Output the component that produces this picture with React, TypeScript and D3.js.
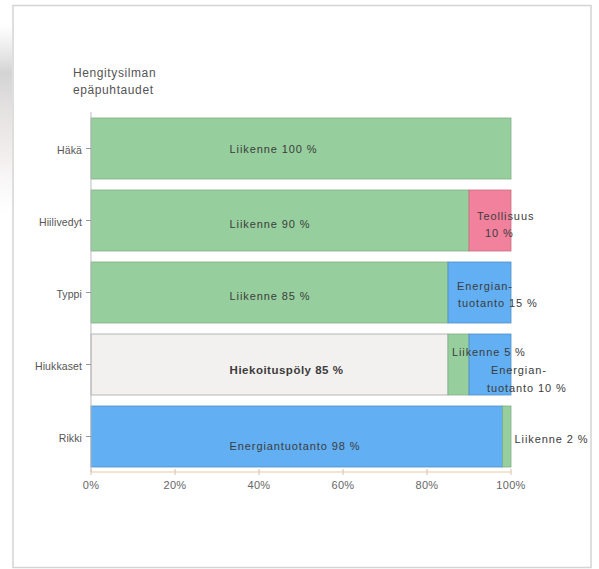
import React from "react";
import * as d3 from "d3";

// Hengitysilman epäpuhtauksien lähteet (%)
const categories = ["Häkä", "Hiilivedyt", "Typpi", "Hiukkaset", "Rikki"];
const rowSources = [
  ["Liikenne"],
  ["Liikenne", "Teollisuus"],
  ["Liikenne", "Energiantuotanto"],
  ["Hiekoituspöly", "Liikenne", "Energiantuotanto"],
  ["Energiantuotanto", "Liikenne"],
];
const rowValues = [[100], [90, 10], [85, 15], [85, 5, 10], [98, 2]];
const xTicks = [0, 20, 40, 60, 80, 100];
const title = ["Hengitysilman", "epäpuhtaudet"];

const W = 599;
const H = 569;

const colors: Record<string, string> = {
  Liikenne: "#96cf9d",
  Teollisuus: "#f2819d",
  Energiantuotanto: "#62aff3",
  Hiekoituspöly: "#f3f1f0",
};
const strokes: Record<string, string> = {
  Liikenne: "#7fae86",
  Teollisuus: "#c9717f",
  Energiantuotanto: "#4f8fc6",
  Hiekoituspöly: "#a9a6a6",
};

// Label placement for each segment: wide segments get a single line at a
// common left edge, narrow ones get wrapped lines nudged next to the segment.
type LabelSpec = { lines: string[]; dx: number[]; dy: number[]; weight?: number };
function labelFor(row: number, seg: number, source: string, value: number): LabelSpec | null {
  const text = `${source} ${value} %`;
  const key = `${row}-${seg}`;
  const specs: Record<string, LabelSpec> = {
    "0-0": { lines: [text], dx: [0], dy: [0] },
    "1-0": { lines: [text], dx: [0], dy: [3] },
    "1-1": { lines: [source, `${value} %`], dx: [8, 16], dy: [-5, 12.5] },
    "2-0": { lines: [text], dx: [0], dy: [3] },
    "2-1": { lines: ["Energian-", `tuotanto ${value} %`], dx: [9, 10], dy: [-6.5, 10.5] },
    "3-0": { lines: [text], dx: [0], dy: [5], weight: 700 },
    "3-1": { lines: [text], dx: [4], dy: [-12.5] },
    "3-2": { lines: ["Energian-", `tuotanto ${value} %`], dx: [22, 18], dy: [5.5, 23.5] },
    "4-0": { lines: [text], dx: [0], dy: [9] },
    "4-1": { lines: [text], dx: [12], dy: [2.5] },
  };
  return specs[key] ?? null;
}

export default function App() {
  const x = d3.scaleLinear().domain([0, 100]).range([91, 511]);
  const y = d3
    .scaleBand<string>()
    .domain(categories)
    .range([112.5, 472.5])
    .paddingInner(11 / 72)
    .paddingOuter(5.5 / 72);
  const bw = y.bandwidth();
  const wideLabelX = x(33);
  const axisY = 472;

  return (
    <svg
      width={W}
      height={H}
      style={{ position: "absolute", left: 0, top: 0, background: "#fff" }}
      fontFamily="'Liberation Sans', Arial, Helvetica, sans-serif"
    >
      <defs>
        <linearGradient id="edgeShade" x1="0" y1="0" x2="0" y2="1">
          <stop offset="0" stopColor="#d8d8d8" stopOpacity="0" />
          <stop offset="0.25" stopColor="#cfcfcf" stopOpacity="0.9" />
          <stop offset="0.7" stopColor="#e6dede" stopOpacity="0.5" />
          <stop offset="1" stopColor="#eee" stopOpacity="0" />
        </linearGradient>
      </defs>
      <rect x={0} y={0} width={W} height={H} fill="#fff" />
      <rect x={0} y={25} width={12} height={190} fill="url(#edgeShade)" />
      <rect x={13} y={5.5} width={578} height={562} fill="#fff" stroke="#d4d4d4" strokeWidth={1.5} />

      {/* title */}
      {title.map((t, i) => (
        <text key={t} x={73} y={77 + i * 17} fontSize={12} fill="#555" letterSpacing={0.6}>
          {t}
        </text>
      ))}

      {/* bars */}
      {categories.map((cat, r) => {
        const vals = rowValues[r];
        const starts = [0, ...Array.from(d3.cumsum(vals))];
        const y0 = y(cat)!;
        return (
          <g key={cat}>
            {vals.map((v, s) => (
              <rect
                key={s}
                x={x(starts[s])}
                y={y0}
                width={x(starts[s] + v) - x(starts[s])}
                height={bw}
                fill={colors[rowSources[r][s]]}
                stroke={strokes[rowSources[r][s]]}
                strokeWidth={0.8}
              />
            ))}
          </g>
        );
      })}

      {/* y axis */}
      <line x1={x(0)} x2={x(0)} y1={112} y2={axisY} stroke="#bbb" strokeWidth={1} />
      {categories.map((cat) => {
        const cy = y(cat)! + bw / 2;
        return (
          <g key={cat}>
            <line x1={x(0) - 5} x2={x(0)} y1={cy} y2={cy} stroke="#999" strokeWidth={1} />
            <text
              x={82}
              y={cy + 1.5}
              textAnchor="end"
              dominantBaseline="central"
              fontSize={10.5}
              fill="#555"
              letterSpacing={0.1}
            >
              {cat}
            </text>
          </g>
        );
      })}

      {/* x axis */}
      <line x1={x(0)} x2={x(100)} y1={axisY} y2={axisY} stroke="#ecc9a6" strokeWidth={1} />
      {xTicks.map((t) => (
        <g key={t}>
          <line x1={x(t)} x2={x(t)} y1={axisY - 3} y2={axisY + 3} stroke="#d9c2ad" strokeWidth={1} />
          <text
            x={x(t)}
            y={485}
            textAnchor="middle"
            dominantBaseline="central"
            fontSize={11}
            fill="#666"
            letterSpacing={0.3}
          >
            {`${t}%`}
          </text>
        </g>
      ))}

      {/* segment labels */}
      {categories.map((cat, r) => {
        const vals = rowValues[r];
        const starts = [0, ...Array.from(d3.cumsum(vals))];
        const cy = y(cat)! + bw / 2;
        return vals.map((v, s) => {
          const spec = labelFor(r, s, rowSources[r][s], v);
          if (!spec) return null;
          const baseX = s === 0 ? wideLabelX : x(starts[s]);
          return spec.lines.map((line, li) => (
            <text
              key={`${cat}-${s}-${li}`}
              x={baseX + spec.dx[li]}
              y={cy + spec.dy[li]}
              dominantBaseline="central"
              fontSize={spec.weight ? 11.5 : 11}
              fontWeight={spec.weight ?? 400}
              fill="#3c3c3c"
              letterSpacing={spec.weight ? 0.5 : 0.9}
            >
              {line}
            </text>
          ));
        });
      })}
    </svg>
  );
}
